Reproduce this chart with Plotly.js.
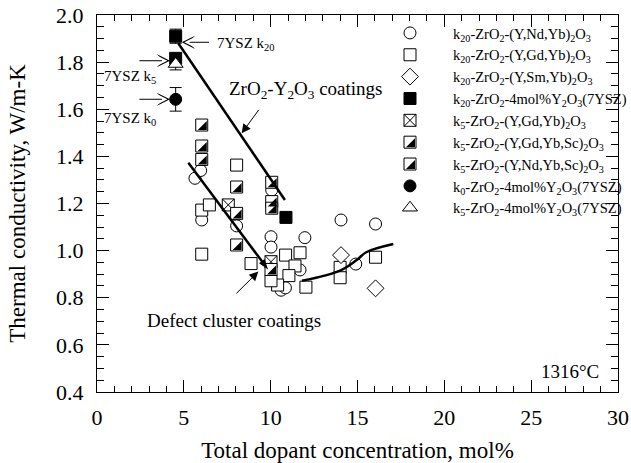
<!DOCTYPE html>
<html>
<head>
<meta charset="utf-8">
<script src="https://cdn.plot.ly/plotly-3.0.1.min.js"></script>
<style>html,body{margin:0;padding:0;background:#fff;}#chart{width:631px;height:463px;}</style>
</head>
<body>
<div id="chart"></div>
<script>
// ---- data (x: total dopant concentration, mol%; y: thermal conductivity, W/m-K) ----
const ndX = [5.64, 5.97, 6.03, 8.04, 10.06, 10.02, 10.02, 11.97, 11.69, 10.6, 10.85, 14.05, 16.04, 14.9];
const ndY = [1.307, 1.34, 1.13, 1.105, 1.257, 1.059, 1.015, 1.055, 0.918, 0.832, 0.842, 1.13, 1.113, 0.943];

const gdX = [6.03, 6.47, 8.04, 6.03, 8.87, 10.86, 11.69, 11.40, 11.05, 10.40, 10.02, 12.03, 14.0, 14.0, 16.04];
const gdY = [1.172, 1.194, 1.363, 0.985, 0.945, 0.981, 0.991, 0.935, 0.894, 0.854, 0.872, 0.845, 0.929, 0.885, 0.972];

const smX = [14.05, 16.04];
const smY = [0.981, 0.84];

const ysz20X = [4.53, 4.53, 10.88];
const ysz20Y = [1.91, 1.816, 1.141];
const ysz20Err = [0.03, 0.0, 0.0];

const gd5X = [7.56, 10.02];
const gd5Y = [1.194, 0.953];

const gdSc5X = [6.03, 8.04, 10.06, 10.06];
const gdSc5Y = [1.533, 1.27, 1.29, 1.208];

const ndSc5X = [6.03, 6.03, 8.04, 8.04, 10.06, 10.02];
const ndSc5Y = [1.444, 1.387, 1.158, 1.024, 1.18, 0.92];

const ysz0X = [4.53];
const ysz0Y = [1.642];
const ysz0Err = [0.05];

const ysz5X = [4.53];
const ysz5Y = [1.792];
const ysz5Err = [0.025];

// guide lines
const yszLineX = [4.68, 10.82];
const yszLineY = [1.88, 1.215];
const defect1X = [5.26, 9.85];
const defect1Y = [1.373, 0.92];
const defect2X = [11.8, 14.0, 14.95, 15.5, 17.06];
const defect2Y = [0.872, 0.915, 0.96, 0.993, 1.028];

const xTicks = [0, 5, 10, 15, 20, 25, 30];
const yTicks = [0.4, 0.6, 0.8, 1.0, 1.2, 1.4, 1.6, 1.8, 2.0];

const names = [
  'k<sub>20</sub>-ZrO<sub>2</sub>-(Y,Nd,Yb)<sub>2</sub>O<sub>3</sub>',
  'k<sub>20</sub>-ZrO<sub>2</sub>-(Y,Gd,Yb)<sub>2</sub>O<sub>3</sub>',
  'k<sub>20</sub>-ZrO<sub>2</sub>-(Y,Sm,Yb)<sub>2</sub>O<sub>3</sub>',
  'k<sub>20</sub>-ZrO<sub>2</sub>-4mol%Y<sub>2</sub>O<sub>3</sub>(7YSZ)',
  'k<sub>5</sub>-ZrO<sub>2</sub>-(Y,Gd,Yb)<sub>2</sub>O<sub>3</sub>',
  'k<sub>5</sub>-ZrO<sub>2</sub>-(Y,Gd,Yb,Sc)<sub>2</sub>O<sub>3</sub>',
  'k<sub>5</sub>-ZrO<sub>2</sub>-(Y,Nd,Yb,Sc)<sub>2</sub>O<sub>3</sub>',
  'k<sub>0</sub>-ZrO<sub>2</sub>-4mol%Y<sub>2</sub>O<sub>3</sub>(7YSZ)',
  'k<sub>5</sub>-ZrO<sub>2</sub>-4mol%Y<sub>2</sub>O<sub>3</sub>(7YSZ)'
];

const FONT = 'Liberation Serif, Times New Roman, serif';
const MS = 12;
const openMk = (sym, size) => ({symbol: sym, size: size || MS, color: 'white', line: {color: 'black', width: 1}});
const fillMk = (sym, size) => ({symbol: sym, size: size || MS, color: 'black', line: {color: 'black', width: 1}});
const errBar = (arr) => ({type: 'data', array: arr, visible: true, color: 'black', thickness: 1, width: 6});
const halfMk = {symbol: 'triangle-se', size: MS / 1.2, color: 'black', line: {width: 0}};

// placeholder rows so that the second (overlay) legend lines up with the first one
const spacer = () => ({x: [null], y: [null], name: ' ', mode: 'markers', legend: 'legend2',
  marker: {symbol: 'square', size: MS, color: 'rgba(0,0,0,0)', line: {width: 0}}, hoverinfo: 'skip'});

const traces = [
  {x: ndX, y: ndY, name: names[0], mode: 'markers', marker: openMk('circle')},
  {x: gdX, y: gdY, name: names[1], mode: 'markers', marker: openMk('square')},
  {x: smX, y: smY, name: names[2], mode: 'markers', marker: openMk('diamond', 13)},
  {x: ysz20X, y: ysz20Y, name: names[3], mode: 'markers', marker: fillMk('square'), error_y: errBar(ysz20Err)},
  {x: gd5X, y: gd5Y, name: names[4], mode: 'markers', marker: openMk('square-x')},
  {x: gdSc5X, y: gdSc5Y, name: names[5], mode: 'markers', marker: openMk('square')},
  {x: ndSc5X, y: ndSc5Y, name: names[6], mode: 'markers', marker: openMk('square')},
  {x: ysz0X, y: ysz0Y, name: names[7], mode: 'markers', marker: fillMk('circle'), error_y: errBar(ysz0Err)},
  {x: ysz5X, y: ysz5Y, name: names[8], mode: 'markers', marker: openMk('triangle-up', 13), error_y: errBar(ysz5Err)},
  // guide lines
  {x: yszLineX, y: yszLineY, mode: 'lines', line: {color: 'black', width: 2.5}, showlegend: false},
  {x: defect1X, y: defect1Y, mode: 'lines+markers', line: {color: 'black', width: 2.5},
   marker: {symbol: 'arrow', angleref: 'previous', size: 11, color: 'black'}, showlegend: false},
  {x: defect2X, y: defect2Y, mode: 'lines', line: {color: 'black', width: 2.5, shape: 'spline'}, showlegend: false},
  spacer(), spacer(), spacer(), spacer(), spacer(),
  // black lower-right halves of the half-filled squares (drawn on a slightly shifted copy of the axes)
  {x: gdSc5X, y: gdSc5Y, xaxis: 'x2', yaxis: 'y2', mode: 'markers', name: ' ', legend: 'legend2', marker: halfMk},
  {x: ndSc5X, y: ndSc5Y, xaxis: 'x2', yaxis: 'y2', mode: 'markers', name: ' ', legend: 'legend2', marker: halfMk}
];

const W = 631, H = 463;
const mL = 97, mR = 10, mT = 15, mB = 69;
const pw = W - mL - mR, ph = H - mT - mB;
const xDom = [0, 521 / pw];
const yDom = [2 / ph, 1];
const off = MS / 6;
const x2Dom = [xDom[0] + off / pw, xDom[1] + off / pw];
const y2Dom = [yDom[0] - off / ph, yDom[1] - off / ph];

const axisCommon = {
  showline: true, linecolor: 'black', linewidth: 1, mirror: 'allticks',
  ticks: 'inside', tickcolor: 'black', tickwidth: 1, ticklen: 12,
  showgrid: false, zeroline: false,
  tickfont: {family: FONT, size: 22, color: 'black'}
};

const hollowArrow = (x, y, ax, ay) => ([
  {x: x, y: y, ax: ax, ay: ay, xref: 'x', yref: 'y', axref: 'x', ayref: 'y', text: '', showarrow: true,
   arrowhead: 3, arrowsize: 1.85, arrowwidth: 1.2, arrowcolor: 'black'},
  {x: x, y: y, ax: ax, ay: ay, xref: 'x', yref: 'y', axref: 'x', ayref: 'y', text: '', showarrow: true,
   arrowhead: 3, arrowsize: 5.6, arrowwidth: 0.3, arrowcolor: 'white', standoff: 2.5}
]);

const annFont = (s) => ({family: FONT, size: s, color: 'black'});

const annotations = [
  ...hollowArrow(4.88, 1.884, 6.53, 1.884),
  ...hollowArrow(4.2, 1.806, 2.36, 1.806),
  ...hollowArrow(4.2, 1.642, 2.36, 1.642),
  {x: 6.79, y: 1.876, xref: 'x', yref: 'y', text: '7YSZ k<sub>20</sub>', showarrow: false,
   xanchor: 'left', yanchor: 'middle', font: annFont(15)},
  {x: 0.27, y: 1.738, xref: 'x', yref: 'y', text: '7YSZ k<sub>5</sub>', showarrow: false,
   xanchor: 'left', yanchor: 'middle', font: annFont(15)},
  {x: 0.27, y: 1.56, xref: 'x', yref: 'y', text: '7YSZ k<sub>0</sub>', showarrow: false,
   xanchor: 'left', yanchor: 'middle', font: annFont(15)},
  {x: 12.06, y: 1.68, xref: 'x', yref: 'y', text: 'ZrO<sub>2</sub>-Y<sub>2</sub>O<sub>3</sub> coatings', showarrow: false,
   xanchor: 'center', yanchor: 'middle', font: annFont(19)},
  {x: 8.33, y: 1.498, ax: 9.38, ay: 1.604, xref: 'x', yref: 'y', axref: 'x', ayref: 'y', text: '', showarrow: true,
   arrowhead: 2, arrowsize: 1.8, arrowwidth: 1, arrowcolor: 'black'},
  {x: 7.89, y: 0.705, xref: 'x', yref: 'y', text: 'Defect cluster coatings', showarrow: false,
   xanchor: 'center', yanchor: 'middle', font: annFont(19)},
  {x: 9.29, y: 0.911, ax: 7.94, ay: 0.812, xref: 'x', yref: 'y', axref: 'x', ayref: 'y', text: '', showarrow: true,
   arrowhead: 2, arrowsize: 1.8, arrowwidth: 1, arrowcolor: 'black'},
  {x: 27.23, y: 0.486, xref: 'x', yref: 'y', text: '1316°C', showarrow: false,
   xanchor: 'center', yanchor: 'middle', font: annFont(19)}
];

const legX = (367 - mL) / pw, legY = 1 - 2 / ph;
const legendBase = {
  xanchor: 'left', yanchor: 'top', bgcolor: 'rgba(0,0,0,0)', borderwidth: 0,
  itemwidth: 76, tracegroupgap: 0, traceorder: 'normal'
};

const layout = {
  width: W, height: H,
  margin: {l: mL, r: mR, t: mT, b: mB, pad: 0, autoexpand: false},
  paper_bgcolor: 'white', plot_bgcolor: 'rgba(0,0,0,0)',
  font: {family: FONT, color: 'black'},
  xaxis: Object.assign({}, axisCommon, {
    domain: xDom, range: [0, 30], tickvals: xTicks, ticktext: xTicks.map(String),
    minor: {dtick: 1, ticks: 'inside', ticklen: 6, tickcolor: 'black', tickwidth: 1},
    ticklabelstandoff: 6, automargin: false,
    title: {text: 'Total dopant concentration, mol%', font: {family: FONT, size: 23, color: 'black'}, standoff: 13},
    anchor: 'y'
  }),
  yaxis: Object.assign({}, axisCommon, {
    domain: yDom, range: [0.4, 2.0], tickvals: yTicks, ticktext: yTicks.map(v => v.toFixed(1)),
    minor: {dtick: 0.05, ticks: 'inside', ticklen: 7, tickcolor: 'black', tickwidth: 1},
    ticklabelstandoff: 8, automargin: false,
    title: {text: 'Thermal conductivity, W/m-K', font: {family: FONT, size: 23, color: 'black'}, standoff: 24},
    anchor: 'x'
  }),
  xaxis2: {domain: x2Dom, range: [0, 30], visible: false, anchor: 'y2', fixedrange: true},
  yaxis2: {domain: y2Dom, range: [0.4, 2.0], visible: false, anchor: 'x2', fixedrange: true},
  showlegend: true,
  legend: Object.assign({}, legendBase, {
    x: legX, y: legY, font: {family: FONT, size: 14.5, color: 'black'}
  }),
  legend2: Object.assign({}, legendBase, {
    x: legX + off / pw, y: legY - off / ph, font: {family: FONT, size: 14.5, color: 'rgba(0,0,0,0)'}
  }),
  annotations: annotations
};

Plotly.newPlot('chart', traces, layout, {staticPlot: true, displayModeBar: false});
</script>
</body>
</html>
